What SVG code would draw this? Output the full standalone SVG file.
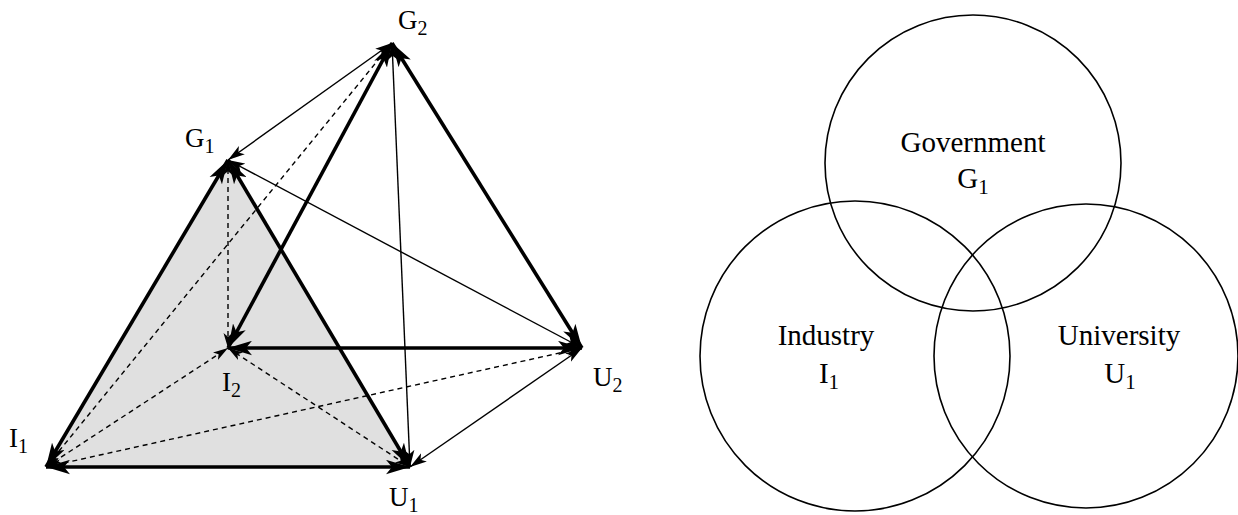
<svg xmlns="http://www.w3.org/2000/svg" width="1238" height="515" viewBox="0 0 1238 515">
<style>
.thick{stroke:#000;stroke-width:3.6;fill:none;marker-start:url(#aB);marker-end:url(#aB)}
.thin{stroke:#000;stroke-width:1.4;fill:none;marker-start:url(#aS);marker-end:url(#aS)}
.dash{stroke:#000;stroke-width:1.4;fill:none;stroke-dasharray:5 4;marker-start:url(#aD);marker-end:url(#aD)}
.lbl{font-family:"Liberation Serif","Times New Roman",serif;font-size:27px;fill:#000}
.sub{font-size:20px}
.ring{fill:none;stroke:#000;stroke-width:1.6}
.rt{font-family:"Liberation Serif","Times New Roman",serif;font-size:29px;fill:#000;text-anchor:middle}
.rsub{font-size:21px}
</style>
<defs>
<marker id="aB" viewBox="0 0 20 12" refX="20" refY="6" markerWidth="24" markerHeight="15" markerUnits="userSpaceOnUse" orient="auto-start-reverse"><path d="M0,0 L20,6 L0,12 L5,6 z" fill="#000"/></marker>
<marker id="aS" viewBox="0 0 20 12" refX="20" refY="6" markerWidth="17" markerHeight="11" markerUnits="userSpaceOnUse" orient="auto-start-reverse"><path d="M0,0 L20,6 L0,12 L5,6 z" fill="#000"/></marker>
<marker id="aD" viewBox="0 0 20 12" refX="20" refY="6" markerWidth="15" markerHeight="10" markerUnits="userSpaceOnUse" orient="auto-start-reverse"><path d="M0,0 L20,6 L0,12 L5,6 z" fill="#000"/></marker>
</defs>
<polygon points="228,160 46,467 410,467" fill="#e0e0e0"/>
<g id="connectors">
<line class="dash" x1="228" y1="160" x2="228" y2="348"/>
<line class="dash" x1="392" y1="43" x2="46" y2="467"/>
<line class="dash" x1="46" y1="467" x2="228" y2="348"/>
<line class="dash" x1="46" y1="467" x2="582" y2="348"/>
<line class="dash" x1="228" y1="348" x2="410" y2="467"/>
<line class="thin" x1="392" y1="43" x2="228" y2="160"/>
<line class="thin" x1="228" y1="160" x2="582" y2="348"/>
<line class="thin" x1="392" y1="43" x2="410" y2="467"/>
<line class="thin" x1="582" y1="348" x2="410" y2="467"/>
<line class="thick" x1="46" y1="467" x2="410" y2="467"/>
<line class="thick" x1="46" y1="467" x2="228" y2="160"/>
<line class="thick" x1="228" y1="160" x2="410" y2="467"/>
<line class="thick" x1="392" y1="43" x2="228" y2="348"/>
<line class="thick" x1="392" y1="43" x2="582" y2="348"/>
<line class="thick" x1="228" y1="348" x2="582" y2="348"/>
</g>
<g id="G2"><text class="lbl" x="398" y="29">G<tspan class="sub" dy="6">2</tspan></text></g>
<g id="G1"><text class="lbl" x="185" y="147">G<tspan class="sub" dy="6">1</tspan></text></g>
<g id="I1"><text class="lbl" x="9" y="447">I<tspan class="sub" dy="6">1</tspan></text></g>
<g id="I2"><text class="lbl" x="222" y="391">I<tspan class="sub" dy="6">2</tspan></text></g>
<g id="U1"><text class="lbl" x="389" y="506">U<tspan class="sub" dy="6">1</tspan></text></g>
<g id="U2"><text class="lbl" x="593" y="386">U<tspan class="sub" dy="6">2</tspan></text></g>
<g id="government"><circle class="ring" cx="973" cy="163" r="148"/></g>
<g id="industry"><circle class="ring" cx="855" cy="356" r="155"/></g>
<g id="university"><circle class="ring" cx="1086" cy="356" r="152"/></g>
<g id="government-label"><text class="rt" x="973" y="152">Government</text><text class="rt" x="973" y="188">G<tspan class="rsub" dy="6">1</tspan></text></g>
<g id="industry-label"><text class="rt" x="826" y="345">Industry</text><text class="rt" x="829" y="383">I<tspan class="rsub" dy="6">1</tspan></text></g>
<g id="university-label"><text class="rt" x="1119" y="345">University</text><text class="rt" x="1120" y="383">U<tspan class="rsub" dy="6">1</tspan></text></g>
</svg>
